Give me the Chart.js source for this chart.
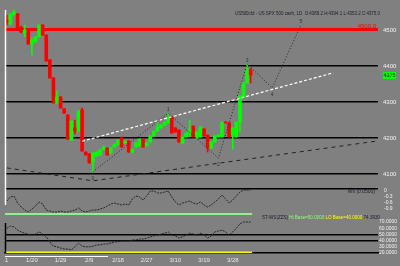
<!DOCTYPE html>
<html>
<head>
<meta charset="utf-8">
<script src="https://cdn.jsdelivr.net/npm/chart.js@4.4.1/dist/chart.umd.min.js"></script>
<style>
html,body{margin:0;padding:0;background:#808080;width:400px;height:266px;overflow:hidden}
canvas{position:absolute;left:0;display:block}
</style>
</head>
<body>
<canvas id="main" width="400" height="188" style="top:0px"></canvas>
<canvas id="osc1" width="400" height="27" style="top:188px"></canvas>
<canvas id="osc2" width="400" height="51" style="top:215px"></canvas>
<script>
// ---------------- data ----------------
const opens  = [4528,4517,4542,4545,4508,4492,4500,4461,4467,4481,
  4514,4486,4417,4367,4297,4314,4281,4264,4194,4228,
  4219,4278,4161,4156,4133,4150,4153,4169,4172,4158,
  4175,4181,4200,4186,4192,4161,4175,4178,4197,4178,
  4189,4206,4219,4228,4236,4242,4258,4228,4222,4186,
  4203,4211,4233,4200,4203,4225,4208,4172,4189,4203,
  4203,4244,4242,4210,4203,4244,4314,4353,4389];
const highs  = [4542,4547,4556,4546,4511,4514,4501,4478,4481,4514,
  4515,4487,4418,4368,4331,4315,4282,4265,4248,4250,
  4276,4283,4162,4157,4159,4162,4168,4178,4173,4173,
  4183,4195,4203,4192,4193,4170,4187,4198,4198,4187,
  4206,4220,4244,4237,4245,4269,4260,4229,4223,4203,
  4214,4250,4234,4217,4231,4226,4209,4189,4206,4209,
  4245,4246,4243,4228,4245,4317,4353,4406,4394];
const lows   = [4514,4514,4541,4505,4492,4481,4460,4431,4466,4480,
  4485,4413,4366,4297,4296,4283,4268,4196,4193,4211,
  4218,4163,4152,4130,4106,4148,4152,4166,4152,4157,
  4174,4180,4174,4185,4160,4158,4174,4177,4174,4177,
  4188,4205,4218,4227,4235,4241,4213,4216,4188,4185,
  4202,4203,4202,4199,4202,4205,4161,4171,4188,4202,
  4202,4241,4202,4169,4202,4217,4313,4352,4353];
const closes = [4520,4544,4550,4506,4494,4500,4461,4472,4481,4514,
  4486,4414,4367,4297,4314,4283,4269,4197,4247,4219,
  4275,4164,4153,4131,4158,4161,4167,4175,4153,4172,
  4183,4194,4175,4191,4161,4169,4186,4197,4175,4186,
  4206,4219,4231,4236,4244,4256,4214,4217,4189,4203,
  4214,4225,4203,4217,4231,4206,4172,4189,4206,4208,
  4244,4242,4203,4228,4244,4317,4353,4389,4375];

const priceLevels = [4100, 4200, 4300, 4400, 4500];
const resistanceLevel = 4500;

const zigzagSlots  = [24, 45, 59, 67, 74, 82];
const zigzagPrices = [4106, 4269, 4144, 4406, 4339, 4514];
const zigzagTags   = ['0', '1', '2', '3', '4', '5'];

const trendSlots    = [21, 91];
const trendPrices   = [4191, 4381];
const supportSlots  = [0, 24, 103.5];
const supportPrices = [4117, 4081, 4192];

const wsValues = [-0.5,-0.3,-0.25,-0.6,-0.8,-0.95,-1.05,-0.9,-0.75,-0.55,
  -0.65,-0.95,-1.0,-1.05,-1.05,-1.0,-1.05,-1.05,-1.0,-0.95,
  -0.85,-1.0,-1.05,-1.0,-0.95,-0.95,-0.9,-0.85,-0.75,-0.65,
  -0.6,-0.65,-0.7,-0.65,-0.7,-0.4,-0.25,-0.3,-0.45,-0.25,
  0,0,-0.1,-0.1,-0.05,0,-0.3,-0.55,-0.7,-0.6,
  -0.55,-0.5,-0.6,-0.65,-0.55,-0.7,-0.8,-0.7,-0.55,-0.4,
  -0.2,-0.4,-0.6,-0.45,-0.25,-0.05,0.05,0.05,0.05];
const wsLevel = -1.15;
const wsTicks = [0, -0.3, -0.6, -0.9];

const stValues = [60,63.5,62,57,54,52,50.5,49,50.5,54,
  50.5,46,38,31,30,28,26.5,26.5,25,30,
  36,31,30,30,31,33,33,34.5,34.5,36,
  38,38,39.5,39.5,39.5,41,41,42.5,42.5,44,
  46,47.5,49,50.5,52,54,49,47.5,44,46,
  49,52,50.5,49,52,49,44,47.5,54,55.5,
  57,54,49,54,60,67,70,70,70];
const stTicks = [70, 60, 50, 40, 30, 20];
const stHiBase = 50, stLoBase = 40, stFloor = 20.8;

const dateSlots  = [0, 7, 15, 23, 31, 39, 47, 55, 63];
const dateLabels = ['1', '1/20', '1/29', '2/9', '2/18', '2/27', '3/10', '3/19', '3/28'];

const titleText = 'US500cfd - US SPX 500 cash, 1D  O:4389.2 H:4394.1 L:4353.2 C:4375.0';
const wsText = 'Ws (0.0500)';
const stParts = [['ST-WS(ZZS) ', '#1c1c2c'], ['Hi Base=50.0000 ', '#90ff70'], ['LO Base=40.0000 ', '#ffff00'], ['74.3930', '#1c1c2c']];

// ---------------- setup ----------------
const FONT = '"Liberation Sans", Arial, sans-serif';
Chart.defaults.font.family = FONT;
Chart.defaults.animation = false;
const xMin = -0.5, xMax = 103.5;
const idx = opens.map((_, i) => i);
const candleColors = idx.map(i => closes[i] >= opens[i] ? '#00ff00' : '#ff0000');
const lastSlot = opens.length - 1;

function rightAxisFit(w) {
  return s => { s.width = w; s.paddingTop = 0; s.paddingBottom = 0; };
}

const mainDeco = {
  id: 'mainDeco',
  afterDatasetsDraw(chart) {
    const {ctx, chartArea: a, scales: {x, y}} = chart;
    ctx.save();
    ctx.strokeStyle = '#ffffff'; ctx.lineWidth = 1.5;
    ctx.beginPath(); ctx.moveTo(a.left + 0.5, a.top + 10); ctx.lineTo(a.left + 0.5, a.bottom); ctx.stroke();
    ctx.font = '5px ' + FONT; ctx.fillStyle = '#2e3350'; ctx.textAlign = 'center';
    zigzagSlots.forEach((s, k) => {
      const px = x.getPixelForValue(s), py = y.getPixelForValue(zigzagPrices[k]);
      const isHigh = k % 2 === 1;
      ctx.textBaseline = isHigh ? 'bottom' : 'top';
      ctx.fillText(zigzagTags[k], px, isHigh ? py - 1 : py + 4);
    });
    ctx.font = '6px ' + FONT; ctx.fillStyle = '#1c1c2c'; ctx.textAlign = 'right'; ctx.textBaseline = 'middle';
    ctx.fillText(titleText, a.right + 2, 13, 145);
    const ry = y.getPixelForValue(resistanceLevel);
    ctx.fillStyle = '#ff0000'; ctx.textBaseline = 'bottom';
    ctx.fillText(resistanceLevel.toFixed(1), a.right - 2, ry - 1);
    const last = closes[lastSlot]; const ly = y.getPixelForValue(last);
    ctx.fillStyle = '#00ff00'; ctx.fillRect(a.right + 5, ly - 3, 13, 7);
    ctx.fillStyle = '#202020'; ctx.textAlign = 'left'; ctx.textBaseline = 'middle';
    ctx.fillText(last.toFixed(0), a.right + 5.5, ly + 0.5, 12);
    ctx.restore();
  }
};

new Chart(document.getElementById('main'), {
  type: 'bar',
  data: { datasets: [
    { type: 'line', data: zigzagSlots.map((s, k) => ({x: s, y: zigzagPrices[k]})), borderColor: '#262626', borderWidth: 1, borderDash: [1, 2], pointRadius: 0, order: -2 },
    { type: 'line', data: trendSlots.map((s, k) => ({x: s, y: trendPrices[k]})), borderColor: '#ffffff', borderWidth: 1.2, borderDash: [3, 2], pointRadius: 0, order: -1 },
    { type: 'line', data: supportSlots.map((s, k) => ({x: s, y: supportPrices[k]})), borderColor: '#222222', borderWidth: 1, borderDash: [4, 4], pointRadius: 0, order: 5 },
    { data: idx.map(i => ({x: i, y: [opens[i], closes[i]]})), backgroundColor: candleColors, borderWidth: 0, barThickness: 3, grouped: false, order: 1 },
    { data: idx.map(i => ({x: i, y: [lows[i], highs[i]]})), backgroundColor: candleColors, borderWidth: 0, barThickness: 1, grouped: false, order: 2 }
  ]},
  options: {
    responsive: false, animation: false, events: [],
    layout: { padding: { left: 5, right: 0, top: 0, bottom: 0 } },
    plugins: { legend: { display: false }, tooltip: { enabled: false } },
    scales: {
      x: { type: 'linear', min: xMin, max: xMax, offset: false, display: false },
      y: { position: 'right', min: 4061.11, max: 4583.33,
           afterBuildTicks: s => { s.ticks = priceLevels.map(v => ({value: v})); },
           afterFit: rightAxisFit(22),
           grid: { color: c => (c.tick && c.tick.value === resistanceLevel) ? '#ff0000' : '#000000',
                   lineWidth: c => (c.tick && c.tick.value === resistanceLevel) ? 3 : 1.5, drawTicks: false },
           border: { display: false },
           ticks: { color: '#f2f2f2', font: { size: 6 }, padding: 5, autoSkip: false, callback: v => String(v) } }
    }
  },
  plugins: [mainDeco]
});

const osc1Deco = {
  id: 'osc1Deco',
  afterDatasetsDraw(chart) {
    const {ctx, chartArea: a} = chart;
    ctx.save();
    ctx.strokeStyle = '#000000'; ctx.lineWidth = 1.5;
    ctx.beginPath(); ctx.moveTo(a.left, a.top + 0.75); ctx.lineTo(a.right, a.top + 0.75); ctx.stroke();
    ctx.strokeStyle = '#ffffff';
    ctx.beginPath(); ctx.moveTo(a.left + 0.5, a.top); ctx.lineTo(a.left + 0.5, a.top + 17); ctx.stroke();
    ctx.font = '5px ' + FONT; ctx.fillStyle = '#1c1c2c'; ctx.textAlign = 'right'; ctx.textBaseline = 'top';
    ctx.fillText(wsText, a.right - 3, a.top + 1);
    ctx.restore();
  }
};

new Chart(document.getElementById('osc1'), {
  type: 'line',
  data: { datasets: [
    { data: idx.map(i => ({x: i, y: wsValues[i]})), borderColor: '#262626', borderWidth: 1, borderDash: [2, 1], pointRadius: 0 },
    { data: [{x: xMin, y: wsLevel}, {x: lastSlot + 0.4, y: wsLevel}], borderColor: '#90ee90', borderWidth: 2, pointRadius: 0 }
  ]},
  options: {
    responsive: false, animation: false, events: [],
    layout: { padding: { left: 5, right: 0, top: 0, bottom: 0 } },
    plugins: { legend: { display: false }, tooltip: { enabled: false } },
    scales: {
      x: { type: 'linear', min: xMin, max: xMax, display: false },
      y: { position: 'right', min: -1.2, max: 0.15,
           afterBuildTicks: s => { s.ticks = wsTicks.map(v => ({value: v})); },
           afterFit: rightAxisFit(22),
           grid: { display: false, drawTicks: false }, border: { display: false },
           ticks: { color: '#f2f2f2', font: { size: 5, lineHeight: 1 }, padding: 6, autoSkip: false, callback: v => String(v) } }
    }
  },
  plugins: [osc1Deco]
});

const osc2Deco = {
  id: 'osc2Deco',
  afterDatasetsDraw(chart) {
    const {ctx, chartArea: a} = chart;
    ctx.save();
    ctx.strokeStyle = '#000000'; ctx.lineWidth = 1.5;
    ctx.beginPath(); ctx.moveTo(a.left + 0.5, a.top + 8); ctx.lineTo(a.left + 0.5, a.bottom); ctx.stroke();
    ctx.strokeStyle = '#ffffff'; ctx.lineWidth = 1;
    const w = (a.right - a.left) * 0.276;
    ctx.beginPath(); ctx.moveTo(a.left, a.bottom + 3.5); ctx.lineTo(a.left + w, a.bottom + 3.5); ctx.stroke();
    ctx.font = '5px ' + FONT; ctx.textBaseline = 'top'; ctx.textAlign = 'left';
    const total = stParts.reduce((t, p) => t + ctx.measureText(p[0]).width, 0);
    const target = 118; const sc = Math.min(1, target / total);
    ctx.translate(a.right + 2 - Math.min(total, target), a.top + 0.5);
    ctx.scale(sc, 1);
    let cx = 0;
    stParts.forEach(p => { ctx.fillStyle = p[1]; ctx.fillText(p[0], cx, 0); cx += ctx.measureText(p[0]).width; });
    ctx.restore();
  }
};

new Chart(document.getElementById('osc2'), {
  type: 'line',
  data: { datasets: [
    { data: idx.map(i => ({x: i, y: stValues[i]})), borderColor: '#262626', borderWidth: 1, borderDash: [2, 1], pointRadius: 0 },
    { data: [{x: xMin, y: stFloor}, {x: lastSlot + 0.4, y: stFloor}], borderColor: '#ffff00', borderWidth: 2, pointRadius: 0 }
  ]},
  options: {
    responsive: false, animation: false, events: [],
    layout: { padding: { left: 5, right: 0, top: 0, bottom: 0 } },
    plugins: { legend: { display: false }, tooltip: { enabled: false } },
    scales: {
      x: { type: 'linear', min: xMin, max: xMax, offset: false,
           afterBuildTicks: s => { s.ticks = dateSlots.map(v => ({value: v})); },
           afterFit: s => { s.height = 13; s.paddingLeft = 0; s.paddingRight = 0; },
           grid: { display: false, drawTicks: false },
           border: { display: true, color: '#000000', width: 1.5 },
           ticks: { color: '#e8e8e8', font: { size: 6 }, padding: 4, maxRotation: 0, autoSkip: false,
                    callback: v => { const k = dateSlots.indexOf(v); return k >= 0 ? dateLabels[k] : ''; } } },
      y: { position: 'right', min: 20, max: 81.3,
           afterBuildTicks: s => { s.ticks = stTicks.map(v => ({value: v})); },
           afterFit: rightAxisFit(22),
           grid: { color: c => (c.tick && (c.tick.value === stHiBase || c.tick.value === stLoBase)) ? '#000000' : 'rgba(0,0,0,0)', lineWidth: 1.5, drawTicks: false },
           border: { display: false },
           ticks: { color: '#f2f2f2', font: { size: 5, lineHeight: 1 }, padding: 1, autoSkip: false, callback: v => Number(v).toFixed(4) } }
    }
  },
  plugins: [osc2Deco]
});
</script>
</body>
</html>
